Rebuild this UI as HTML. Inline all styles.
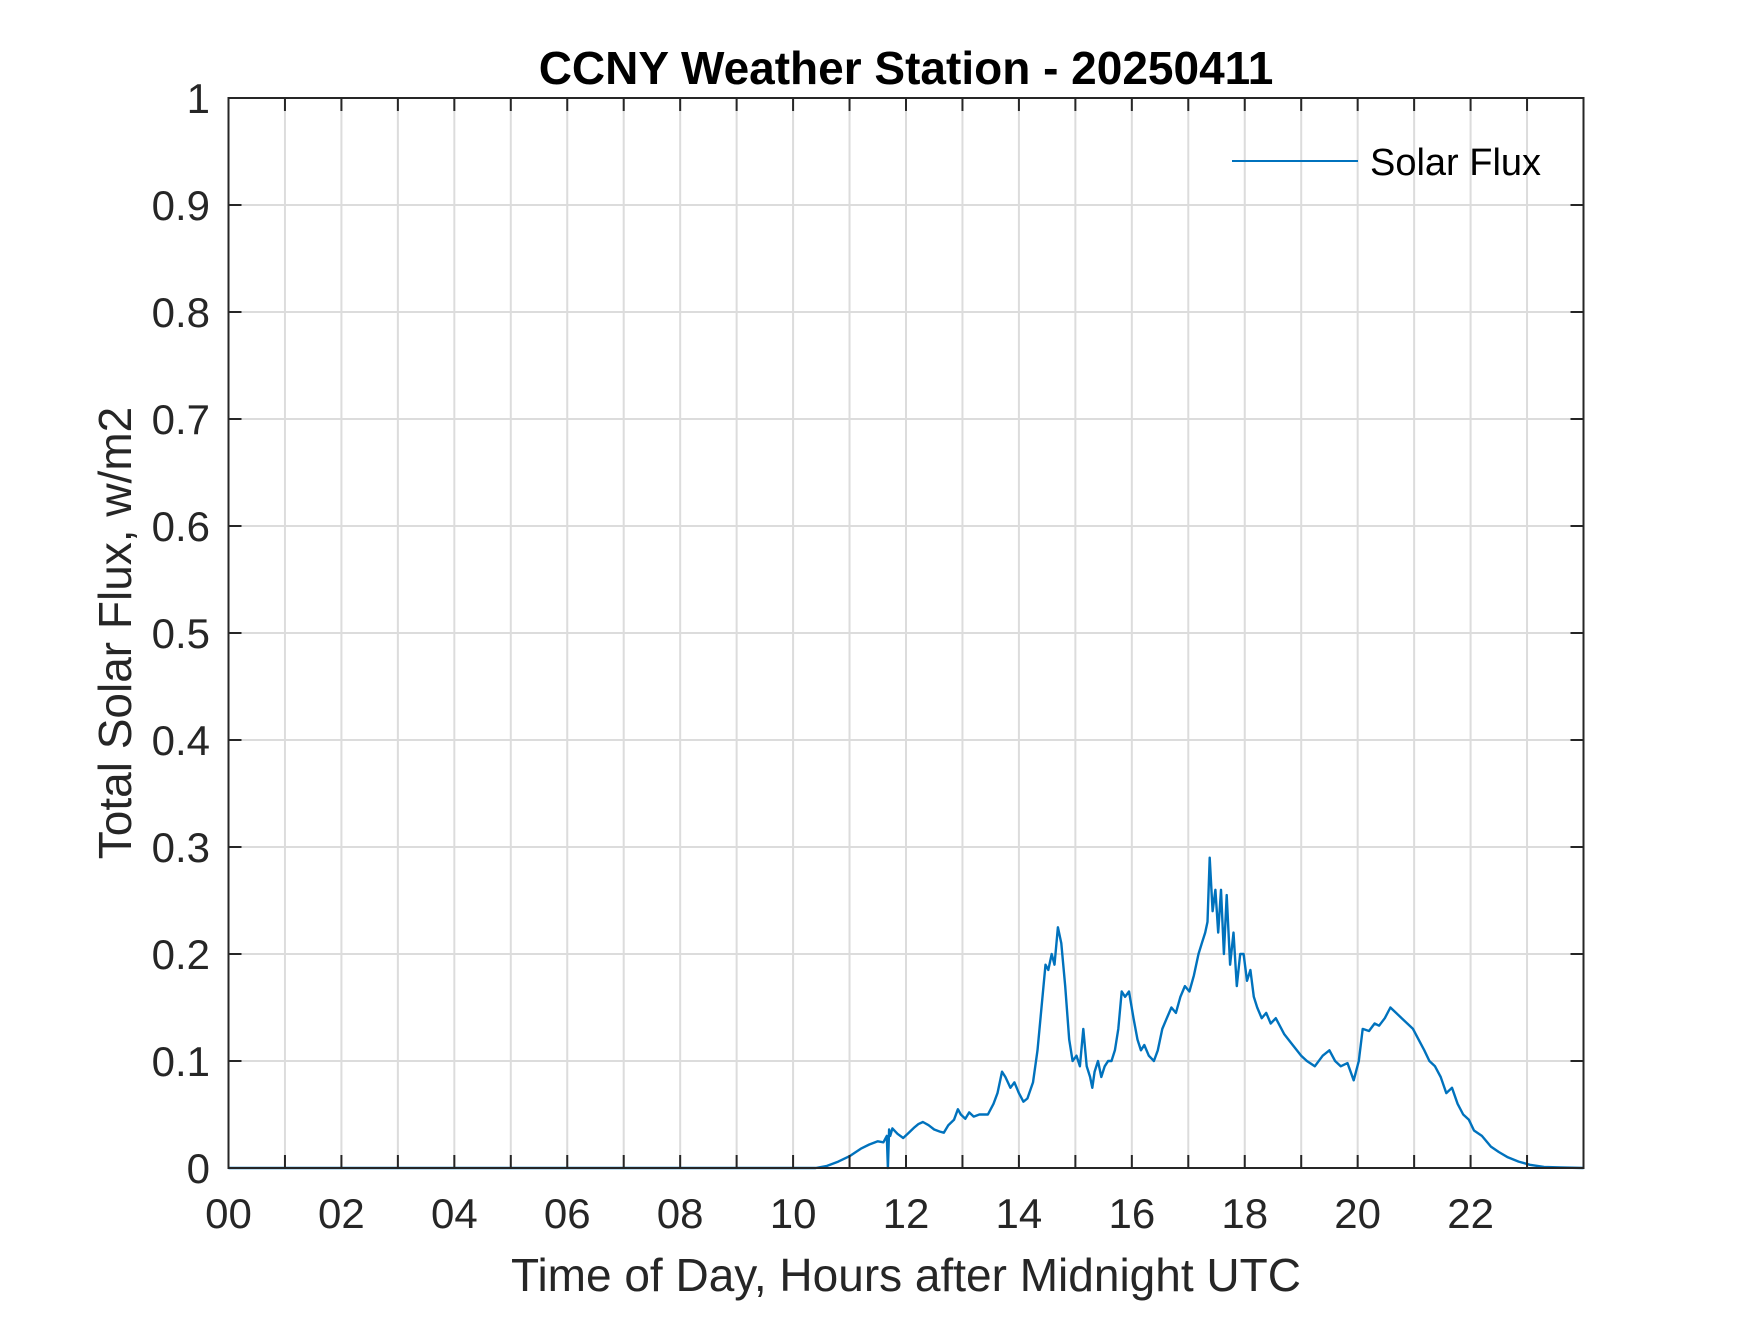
<!DOCTYPE html>
<html><head><meta charset="utf-8"><style>
html,body{margin:0;padding:0;background:#fff;}
svg text{font-family:"Liberation Sans",Arial,sans-serif;}
</style></head><body>
<svg id="chart" width="1750" height="1313" viewBox="0 0 1750 1313" xmlns="http://www.w3.org/2000/svg">
<rect x="0" y="0" width="1750" height="1313" fill="#fff"/>
<g id="grid"></g>
<g id="series"></g>
<rect x="228.5" y="98" width="1355" height="1070" fill="none" stroke="#262626" stroke-width="2"/>
<g id="ticks"></g>
<text x="906" y="84" font-size="46" font-weight="bold" text-anchor="middle" fill="#000">CCNY Weather Station - 20250411</text>
<text x="906" y="1291" font-size="46" text-anchor="middle" fill="#262626">Time of Day, Hours after Midnight UTC</text>
<text transform="translate(131,633) rotate(-90)" font-size="46" text-anchor="middle" fill="#262626">Total Solar Flux, w/m2</text>
<g>
<line x1="1232" y1="161" x2="1358" y2="161" stroke="#0072BD" stroke-width="2"/>
<text x="1370" y="175" font-size="38" fill="#000">Solar Flux</text>
</g>
</svg>
<script>
const hours = [0,10.4,10.6,10.8,11.0,11.2,11.35,11.5,11.6,11.66,11.68,11.7,11.72,11.76,11.85,11.95,12.05,12.15,12.22,12.3,12.4,12.5,12.6,12.67,12.75,12.85,12.92,12.97,13.05,13.12,13.2,13.3,13.37,13.45,13.55,13.62,13.7,13.76,13.85,13.92,14.0,14.08,14.15,14.25,14.33,14.4,14.47,14.52,14.58,14.63,14.69,14.75,14.82,14.89,14.95,15.02,15.08,15.14,15.2,15.26,15.3,15.34,15.4,15.46,15.52,15.58,15.64,15.7,15.76,15.82,15.88,15.95,16.03,16.1,16.16,16.22,16.3,16.39,16.46,16.54,16.62,16.7,16.78,16.86,16.94,17.02,17.1,17.18,17.24,17.3,17.34,17.38,17.43,17.48,17.53,17.58,17.63,17.68,17.74,17.8,17.86,17.92,17.98,18.04,18.1,18.16,18.22,18.3,18.38,18.46,18.55,18.7,18.85,19.0,19.1,19.24,19.38,19.5,19.6,19.7,19.82,19.93,20.02,20.09,20.2,20.3,20.38,20.48,20.58,20.68,20.78,20.88,20.98,21.08,21.18,21.27,21.37,21.47,21.57,21.67,21.77,21.87,21.97,22.06,22.2,22.36,22.5,22.66,22.85,23.05,23.3,23.6,24];
const fluxValues = [0,0,0.002,0.006,0.011,0.018,0.022,0.025,0.024,0.03,0,0.036,0.03,0.037,0.032,0.028,0.033,0.038,0.041,0.043,0.04,0.036,0.034,0.033,0.04,0.045,0.055,0.05,0.046,0.052,0.048,0.05,0.05,0.05,0.06,0.07,0.09,0.085,0.075,0.08,0.07,0.062,0.065,0.08,0.11,0.15,0.19,0.185,0.2,0.19,0.225,0.21,0.17,0.12,0.1,0.105,0.095,0.13,0.095,0.085,0.075,0.09,0.1,0.085,0.095,0.1,0.1,0.11,0.13,0.165,0.16,0.165,0.14,0.12,0.11,0.115,0.105,0.1,0.11,0.13,0.14,0.15,0.145,0.16,0.17,0.165,0.18,0.2,0.21,0.22,0.23,0.29,0.24,0.26,0.22,0.26,0.2,0.255,0.19,0.22,0.17,0.2,0.2,0.175,0.185,0.16,0.15,0.14,0.145,0.135,0.14,0.125,0.115,0.105,0.1,0.095,0.105,0.11,0.1,0.095,0.098,0.082,0.1,0.13,0.128,0.135,0.133,0.14,0.15,0.145,0.14,0.135,0.13,0.12,0.11,0.1,0.095,0.085,0.07,0.075,0.06,0.05,0.045,0.035,0.03,0.02,0.015,0.01,0.006,0.003,0.001,0.0005,0];
const xTickLabels = ["00","02","04","06","08","10","12","14","16","18","20","22"];
const yTickLabels = ["0","0.1","0.2","0.3","0.4","0.5","0.6","0.7","0.8","0.9","1"];

const NS = "http://www.w3.org/2000/svg";
const L = 228.5, R = 1583.5, T = 98, B = 1168;
const xScale = h => L + (h / 24) * (R - L);
const yScale = v => B - (v / 1) * (B - T);
function mk(tag, attrs, parent) {
  const el = document.createElementNS(NS, tag);
  for (const k in attrs) el.setAttribute(k, attrs[k]);
  parent.appendChild(el);
  return el;
}
const grid = document.getElementById('grid');
const ticks = document.getElementById('ticks');
for (let h = 1; h < 24; h++) {
  const x = xScale(h);
  const g = mk('line', {x1: x, y1: T, x2: x, y2: B, stroke: '#dcdcdc', 'stroke-width': 2}, grid);
  
  
  const t1 = mk('line', {x1: x, y1: B, x2: x, y2: B - 13, stroke: '#262626', 'stroke-width': 2}, ticks);
  
  
  const t2 = mk('line', {x1: x, y1: T, x2: x, y2: T + 13, stroke: '#262626', 'stroke-width': 2}, ticks);
  
  
}
xTickLabels.forEach((lab, i) => {
  const t = mk('text', {x: xScale(i * 2), y: 1228, 'font-size': 42, 'text-anchor': 'middle', fill: '#262626'}, ticks);
  t.textContent = lab;
  
  
});
yTickLabels.forEach((lab, i) => {
  const v = i / 10;
  const y = yScale(v);
  if (i > 0 && i < 10) {
    const g = mk('line', {x1: L, y1: y, x2: R, y2: y, stroke: '#dcdcdc', 'stroke-width': 2}, grid);
    
    
    const t1 = mk('line', {x1: L, y1: y, x2: L + 13, y2: y, stroke: '#262626', 'stroke-width': 2}, ticks);
    
    
    const t2 = mk('line', {x1: R, y1: y, x2: R - 13, y2: y, stroke: '#262626', 'stroke-width': 2}, ticks);
    
    
  }
  const t = mk('text', {x: 210, y: y + 15, 'font-size': 42, 'text-anchor': 'end', fill: '#262626'}, ticks);
  t.textContent = lab;
  
  
});
const pts = hours.map((h, i) => xScale(h).toFixed(1) + ',' + yScale(fluxValues[i]).toFixed(1)).join(' ');
const line = mk('polyline', {points: pts, fill: 'none', stroke: '#0072BD', 'stroke-width': 2.4, 'stroke-linejoin': 'round'}, document.getElementById('series'));


</script>
</body></html>
